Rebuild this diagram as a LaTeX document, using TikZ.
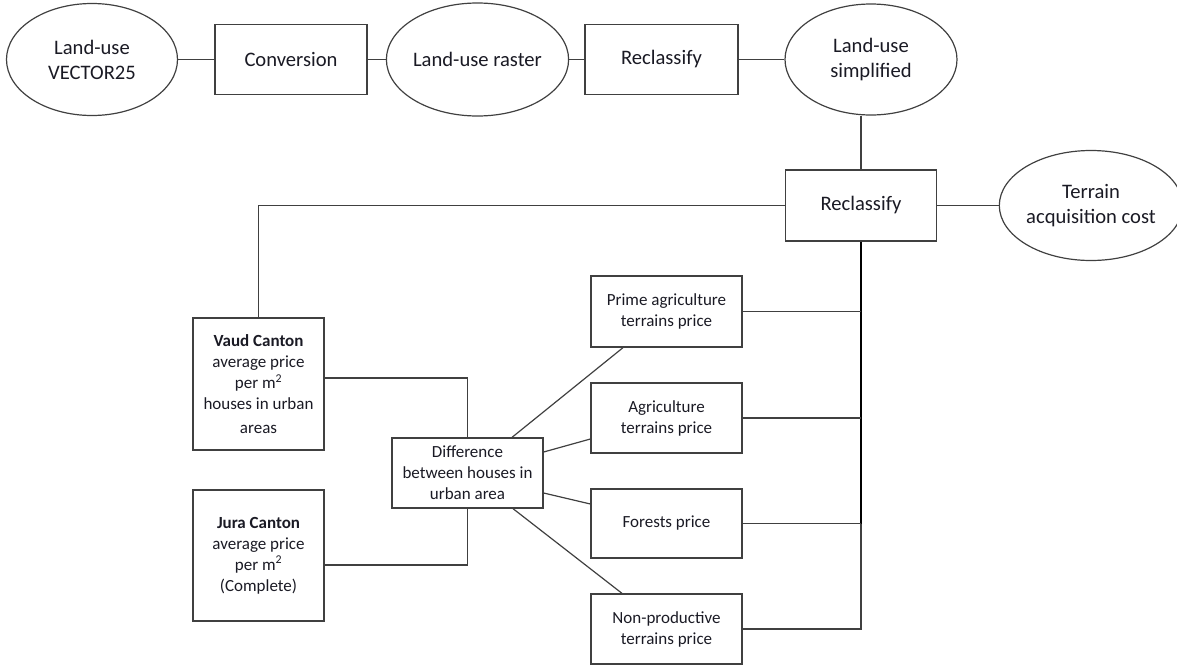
\documentclass[tikz,border=0pt]{standalone}
\usepackage{fontspec}
\setmainfont{Carlito}
\usetikzlibrary{shapes.geometric}
\definecolor{edge}{HTML}{404040}
\definecolor{ink}{HTML}{1A1A24}
\begin{document}
\begin{tikzpicture}[x=1pt,y=-1pt,
  every node/.style={text=ink, align=center, inner sep=0pt},
  big/.style={font=\fontsize{20.6}{25}\selectfont},
  small/.style={font=\fontsize{17}{21}\selectfont},
  oval/.style={ellipse, draw=edge, line width=1.2pt, big},
  box/.style={rectangle, draw=edge, line width=1.3pt},
  link/.style={draw=edge, line width=1.2pt},
  bus/.style={draw=black, line width=1.6pt}]
\useasboundingbox (0,0) rectangle (1177,664);

% top chain
\node[oval, minimum width=171pt, minimum height=112pt] (v25) at (92,59.5) {Land-use\\VECTOR25};
\node[box, big, minimum width=152pt, minimum height=70pt] (conv) at (291,59.5) {Conversion};
\node[oval, minimum width=171pt, minimum height=113pt] (raster) at (477.5,59.5) {Land-use raster};
\node[box, big, minimum width=153pt, minimum height=70pt] (recl1) at (661.5,59.5) {Reclassify};
\node[oval, minimum width=172pt, minimum height=111pt] (simp) at (871,59.5) {Land-use\\simplified};

% second reclassification and result
\node[box, big, minimum width=151pt, minimum height=71pt] (recl2) at (861,205.5) {Reclassify};
\node[oval, minimum width=170pt, minimum height=110pt] (cost) at (1091,205.5) {Terrain\\acquisition cost};

% canton prices
\node[box, small, minimum width=131pt, minimum height=132pt] (vaud) at (258.5,384)
  {\textbf{Vaud Canton}\\average price\\per m\textsuperscript{2}\\houses in urban\\[3pt]areas};
\node[box, small, minimum width=131pt, minimum height=131pt] (jura) at (258.5,555.5)
  {\textbf{Jura Canton}\\average price\\per m\textsuperscript{2}\\(Complete)};
\node[box, small, minimum width=151pt, minimum height=70pt] (diff) at (467.5,473)
  {Difference\\between houses in\\urban area};

% terrain prices
\node[box, small, minimum width=151pt, minimum height=71pt] (prime) at (666.5,311.5) {Prime agriculture\\terrains price};
\node[box, small, minimum width=151pt, minimum height=70pt] (agri) at (666.5,418) {Agriculture\\terrains price};
\node[box, small, minimum width=151pt, minimum height=69pt] (forest) at (666.5,523.5) {Forests price};
\node[box, small, minimum width=151pt, minimum height=70pt] (nonprod) at (666.5,629) {Non-productive\\terrains price};

% connectors of the top chain
\draw[link] (v25.east) -- (conv.west);
\draw[link] (conv.east) -- (raster.west);
\draw[link] (raster.east) -- (recl1.west);
\draw[link] (recl1.east) -- (simp.west);
\draw[link] (recl2.north) -- (recl2.north |- simp.south);
\draw[link] (recl2.east) -- (cost.west);

% canton inputs
\draw[link] (vaud.north) |- (recl2.west);
\draw[link] ([yshift=6pt]vaud.east) -| (diff.north);
\draw[link] ([yshift=-9.5pt]jura.east) -| (diff.south);

% difference to terrain prices
\draw[link] ([xshift=44.5pt]diff.north) -- ([xshift=-43.5pt]prime.south);
\draw[link] ([yshift=21pt]diff.east) -- ([yshift=-21pt]agri.west);
\draw[link] ([yshift=-20pt]diff.east) -- ([yshift=19.5pt]forest.west);
\draw[link] ([xshift=45.5pt]diff.south) -- ([xshift=-44.5pt]nonprod.north);

% collecting bus into the second reclassification
\draw[bus] (recl2.south) -- (recl2.south |- forest.east);
\draw[link] (recl2.south |- forest.east) -- (recl2.south |- nonprod.east) -- (nonprod.east);
\draw[link] (prime.east) -- (prime.east -| recl2.south);
\draw[link] (agri.east) -- (agri.east -| recl2.south);
\draw[link] (forest.east) -- (forest.east -| recl2.south);
\end{tikzpicture}
\end{document}
